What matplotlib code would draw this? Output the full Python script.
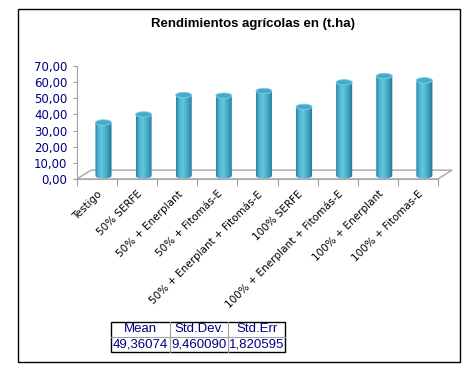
import numpy as np
import matplotlib.pyplot as plt
from matplotlib.patches import Ellipse, Rectangle, Polygon, PathPatch
from matplotlib.path import Path
from matplotlib.colors import LinearSegmentedColormap

categories = ['Testigo', '50% SERFE', '50% + Enerplant', '50% + Fitomás-E',
              '50% + Enerplant + Fitomás-E', '100% SERFE',
              '100% + Enerplant + Fitomás-E', '100% + Enerplant', '100% + Fitomas-E']
values = [33.0, 38.0, 50.0, 49.6, 52.5, 42.7, 57.9, 61.8, 59.1]
yticks = [0, 10, 20, 30, 40, 50, 60, 70]
stats_labels = ['Mean', 'Std.Dev.', 'Std.Err']
stats_values = ['49,36074', '9,460090', '1,820595']

W, H = 477, 373
fig = plt.figure(figsize=(W / 100, H / 100), dpi=100)


def box(x0, y0, x1, y1):
    # pixel box (origin top-left) -> figure rect
    return [x0 / W, 1 - y1 / H, (x1 - x0) / W, (y1 - y0) / H]


ax = fig.add_axes(box(77, 66, 438, 179))
ax.patch.set_alpha(0)

# --- 3D-ish floor
FX, FZ = 0.35, 5.5
n = len(categories)
floor = Polygon([(0, 0), (n, 0), (n + FX, FZ), (FX, FZ)], closed=True,
                facecolor='white', edgecolor='#a6a6a6', lw=1, clip_on=False, zorder=1)
ax.add_patch(floor)

# --- cylinders
cyl = LinearSegmentedColormap.from_list(
    'cyl', ['#2b82a2', '#4fb5d3', '#64c6e0', '#4db2d0', '#3899b8', '#226f8b'])
grad = np.linspace(0, 1, 64).reshape(1, -1)
DX, DZ = 0.16, 2.0   # bar position inside the floor depth
BW, EH = 0.4, 3.4    # bar width, ellipse height (data units)
t = np.linspace(np.pi, 2 * np.pi, 40)
for i, v in enumerate(values):
    xc = i + 0.5 + DX
    x0, x1 = xc - BW / 2, xc + BW / 2
    y0, y1 = DZ, DZ + v
    bottom = np.column_stack([xc + BW / 2 * np.cos(t), y0 + EH / 2 * np.sin(t)])
    verts = np.vstack([bottom, [[x1, y1], [x0, y1]], bottom[:1]])
    clip = PathPatch(Path(verts, closed=True), transform=ax.transData,
                     facecolor='none', edgecolor='none')
    ax.add_patch(clip)
    im = ax.imshow(grad, cmap=cyl, extent=[x0, x1, y0 - EH / 2, y1],
                   aspect='auto', interpolation='bilinear', zorder=3)
    im.set_clip_path(clip)
    ax.add_patch(Ellipse((xc, y1), BW, EH, facecolor='#47aac9',
                         edgecolor='#7fd2e8', lw=0.6, zorder=4))

ax.set_xlim(0, n)
ax.set_ylim(0, 70)
ax.set_aspect('auto')

for s in ['top', 'right']:
    ax.spines[s].set_visible(False)
ax.spines['left'].set_color('#a0a0a0')
ax.spines['bottom'].set_color('#a6a6a6')

ax.set_yticks(yticks)
ax.set_yticklabels(['{:.2f}'.format(y).replace('.', ',') for y in yticks])
ax.tick_params(axis='y', colors='#a0a0a0', labelcolor='#000080', length=3,
               pad=4, labelsize=8.5)

ax.set_xticks(np.arange(n + 1))
ax.set_xticklabels([])
ax.set_xticks(np.arange(n) + 0.5, minor=True)
ax.set_xticklabels(categories, minor=True, rotation=45, ha='right',
                   rotation_mode='anchor', fontsize=7.5)
ax.tick_params(axis='x', which='major', colors='#a0a0a0', length=5)
ax.tick_params(axis='x', which='minor', length=0, pad=7)

# --- overlay in pixel coordinates: frame, title, stats table
ov = fig.add_axes([0, 0, 1, 1])
ov.set_xlim(0, W)
ov.set_ylim(H, 0)
ov.axis('off')
ov.patch.set_alpha(0)
ov.add_patch(Rectangle((18, 9), 442, 353, fill=False, ec='black', lw=1))
ov.text(253, 24, 'Rendimientos agrícolas en (t.ha)', ha='center', va='center',
        fontsize=9.5, fontweight='bold', family='Liberation Sans')

cols = [111.5, 170, 228.5, 285.5]
rows = [322, 337, 352]
for c in cols[1:-1]:
    ov.plot([c, c], [rows[0], rows[-1]], color='#a0a0a0', lw=0.8)
ov.plot([cols[0], cols[-1]], [rows[1], rows[1]], color='#a0a0a0', lw=0.8)
ov.add_patch(Rectangle((cols[0], rows[0]), cols[-1] - cols[0], rows[-1] - rows[0],
                       fill=False, ec='black', lw=1))
for j in range(3):
    xm = (cols[j] + cols[j + 1]) / 2
    ov.text(xm, (rows[0] + rows[1]) / 2, stats_labels[j], ha='center', va='center',
            fontsize=9.5, family='Liberation Sans', color='#000080')
    ov.text(xm, (rows[1] + rows[2]) / 2, stats_values[j], ha='center', va='center',
            fontsize=9.5, family='Liberation Sans', color='#000080')

fig.savefig('out.png', dpi=100)
